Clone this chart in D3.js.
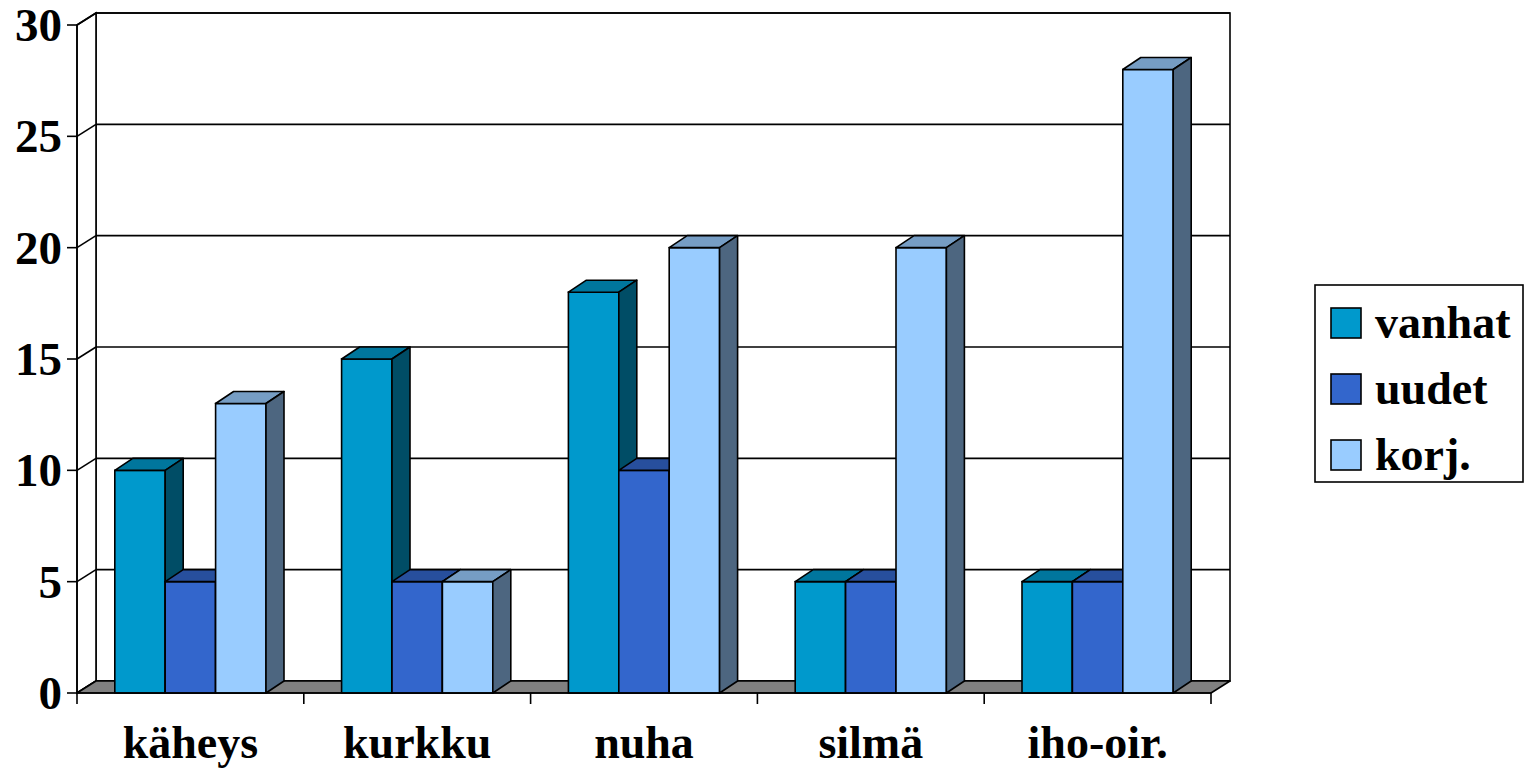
<!DOCTYPE html>
<html>
<head>
<meta charset="utf-8">
<script src="https://cdn.jsdelivr.net/npm/d3@7"></script>
<style>
  html, body { margin: 0; padding: 0; background: #fff; }
  svg { display: block; }
  text { font-family: "Liberation Serif", "Times New Roman", serif; font-weight: bold; fill: #000; }
</style>
</head>
<body>
<svg id="chart" width="1531" height="772"></svg>
<script>
// Chart data
const categories = ["käheys", "kurkku", "nuha", "silmä", "iho-oir."];
const seriesNames = ["vanhat", "uudet", "korj."];
const vanhat = [10, 15, 18, 5, 5];
const uudet  = [5, 5, 10, 5, 5];
const korj   = [13, 5, 20, 20, 28];
const yTicks = [0, 5, 10, 15, 20, 25, 30];
const seriesColors = ["#0099CC", "#3366CC", "#99CCFF"];

const seriesValues = [vanhat, uudet, korj];

(function drawChart() {
  const svg = d3.select("#chart");

  // Plot geometry (front plane) and 3D depth offsets
  const plotLeft = 77, plotRight = 1211, plotTop = 25, plotBottom = 693;
  const wallDx = 19, wallDy = -12;
  const barDx = 18, barDy = -12;

  const y = d3.scaleLinear().domain([0, 30]).range([plotBottom, plotTop]);
  const x0 = d3.scaleBand().domain(categories).range([plotLeft, plotRight]);
  const x1 = d3.scaleBand().domain(seriesNames).range([0, x0.bandwidth()])
    .paddingInner(0).paddingOuter(0.75);

  const shade = (c, k) => {
    const r = d3.rgb(c);
    return d3.rgb(r.r * k, r.g * k, r.b * k).formatHex();
  };
  const poly = pts => pts.map(p => p.join(",")).join(" ");
  const SW = 1.6;

  // Back wall
  svg.append("rect")
    .attr("x", plotLeft + wallDx).attr("y", plotTop + wallDy)
    .attr("width", plotRight - plotLeft).attr("height", plotBottom - plotTop)
    .attr("fill", "#fff").attr("stroke", "#000").attr("stroke-width", SW);

  // Side wall
  svg.append("polygon")
    .attr("points", poly([[plotLeft, plotBottom], [plotLeft, plotTop], [plotLeft + wallDx, plotTop + wallDy], [plotLeft + wallDx, plotBottom + wallDy]]))
    .attr("fill", "#fff").attr("stroke", "#000").attr("stroke-width", SW);

  // Gridlines on side wall and back wall
  const grid = svg.append("g");
  yTicks.forEach(t => {
    const yf = y(t);
    grid.append("line")
      .attr("x1", plotLeft).attr("y1", yf).attr("x2", plotLeft + wallDx).attr("y2", yf + wallDy)
      .attr("stroke", "#000").attr("stroke-width", SW);
    grid.append("line")
      .attr("x1", plotLeft + wallDx).attr("y1", yf + wallDy).attr("x2", plotRight + wallDx).attr("y2", yf + wallDy)
      .attr("stroke", "#000").attr("stroke-width", SW);
  });

  // Floor
  svg.append("polygon")
    .attr("points", poly([[plotLeft, plotBottom], [plotRight, plotBottom], [plotRight + wallDx, plotBottom + wallDy], [plotLeft + wallDx, plotBottom + wallDy]]))
    .attr("fill", "#808080").attr("stroke", "#000").attr("stroke-width", SW).attr("stroke-linejoin", "round");

  // Bars, drawn left to right so nearer faces overlap correctly
  const bars = svg.append("g");
  categories.forEach((cat, ci) => {
    seriesNames.forEach((s, si) => {
      const v = seriesValues[si][ci];
      const c = seriesColors[si];
      const xa = x0(cat) + x1(s);
      const xb = xa + x1.bandwidth();
      const yt = y(v), yb = y(0);
      const g = bars.append("g");
      // front face
      g.append("rect").attr("x", xa).attr("y", yt).attr("width", xb - xa).attr("height", yb - yt)
        .attr("fill", c).attr("stroke", "#000").attr("stroke-width", SW);
      // top face
      g.append("polygon")
        .attr("points", poly([[xa, yt], [xb, yt], [xb + barDx, yt + barDy], [xa + barDx, yt + barDy]]))
        .attr("fill", shade(c, 0.77)).attr("stroke", "#000").attr("stroke-width", SW).attr("stroke-linejoin", "round");
      // right side face
      g.append("polygon")
        .attr("points", poly([[xb, yt], [xb + barDx, yt + barDy], [xb + barDx, yb + barDy], [xb, yb]]))
        .attr("fill", shade(c, 0.5)).attr("stroke", "#000").attr("stroke-width", SW).attr("stroke-linejoin", "round");
    });
  });

  // Value axis
  const yAxis = svg.append("g");
  yAxis.append("line").attr("x1", plotLeft).attr("y1", plotTop).attr("x2", plotLeft).attr("y2", plotBottom + 11)
    .attr("stroke", "#000").attr("stroke-width", SW);
  yTicks.forEach(t => {
    yAxis.append("line").attr("x1", plotLeft - 10).attr("y1", y(t)).attr("x2", plotLeft).attr("y2", y(t))
      .attr("stroke", "#000").attr("stroke-width", SW);
    yAxis.append("text").attr("x", 62).attr("y", y(t)).attr("dy", "0.34em")
      .attr("text-anchor", "end").attr("font-size", 47).text(t);
  });

  // Category axis
  const xAxis = svg.append("g");
  xAxis.append("line").attr("x1", plotLeft).attr("y1", plotBottom).attr("x2", plotRight).attr("y2", plotBottom)
    .attr("stroke", "#000").attr("stroke-width", SW);
  categories.forEach(cat => {
    const xe = x0(cat) + x0.bandwidth();
    xAxis.append("line").attr("x1", xe).attr("y1", plotBottom).attr("x2", xe).attr("y2", plotBottom + 11)
      .attr("stroke", "#000").attr("stroke-width", SW);
    xAxis.append("text").attr("x", x0(cat) + x0.bandwidth() / 2).attr("y", 758)
      .attr("text-anchor", "middle").attr("font-size", 46).text(cat);
  });

  // Legend
  const legend = svg.append("g");
  legend.append("rect").attr("x", 1315).attr("y", 285).attr("width", 208).attr("height", 197)
    .attr("fill", "#fff").attr("stroke", "#000").attr("stroke-width", SW);
  seriesNames.forEach((s, i) => {
    const ly = 308 + i * 66;
    legend.append("rect").attr("x", 1331).attr("y", ly).attr("width", 30).attr("height", 30)
      .attr("fill", seriesColors[i]).attr("stroke", "#000").attr("stroke-width", SW);
    legend.append("text").attr("x", 1375).attr("y", ly + 30).attr("font-size", 46).text(s);
  });
})();
</script>
</body>
</html>
